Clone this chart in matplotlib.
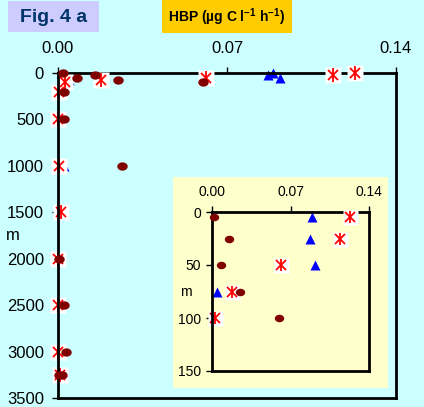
import numpy as np
import matplotlib
matplotlib.use('Agg')
import matplotlib.pyplot as plt
from matplotlib.path import Path
from matplotlib.patches import Rectangle

plt.rcParams['font.family'] = ['Liberation Sans', 'DejaVu Sans']
plt.rcParams['mathtext.fontset'] = 'custom'
plt.rcParams['mathtext.rm'] = 'Liberation Sans'
plt.rcParams['mathtext.bf'] = 'Liberation Sans:bold'

# ---- data (HBP, µg C l-1 h-1 vs depth, m) ----
circ_depth = [5, 25, 50, 75, 100, 200, 500, 1000, 2000, 2500, 3000, 3250, 3250]
circ_val = [0.002, 0.0155, 0.008, 0.025, 0.060, 0.0025, 0.0025, 0.0265,
            0.0004, 0.0026, 0.0033, 0.0004, 0.0018]

star_depth = [5, 25, 50, 75, 100, 200, 500, 1000, 1500, 2000, 2500, 3000, 3250]
star_val = [0.123, 0.114, 0.0615, 0.018, 0.003, 0.0004, 0.0, 0.0005, 0.0012,
            0.0, 0.0, 0.0, 0.0008]

tri_depth = [5, 25, 50, 75, 1000]
tri_val = [0.089, 0.087, 0.092, 0.0045, 0.0025]

x_ticks = [0.0, 0.07, 0.14]
x_ticklabels = ['0.00', '0.07', '0.14']
main_yticks = [0, 500, 1000, 1500, 2000, 2500, 3000, 3500]
inset_yticks = [0, 50, 100, 150]

BG = '#ccffff'
YEL = '#ffffcc'

t = np.linspace(0, 2 * np.pi, 41)
ell = Path(np.c_[1.25 * np.cos(t), np.sin(t)], closed=True)

W, H = 424, 407
fig = plt.figure(figsize=(W / 100, H / 100), dpi=100)
fig.patch.set_facecolor(BG)


def px(l, t_, r, b):
    return [l / W, (H - b) / H, (r - l) / W, (b - t_) / H]


def sel(d, v, lim):
    pairs = [(a, b) for a, b in zip(d, v) if a <= lim]
    return [p[1] for p in pairs], [p[0] for p in pairs]


def draw(ax, lim, s):
    x, y = sel(tri_depth, tri_val, lim)
    ax.plot(x, y, ls='none', marker='^', color='#0000ff', ms=7.5 * s,
            mec='none', zorder=1.6, clip_on=False)
    x, y = sel(star_depth, star_val, lim)
    ax.plot(x, y, ls='none', marker='s', mfc='white', mec='none',
            ms=12 * s, zorder=1.7, clip_on=False)
    ax.plot(x, y, ls='none', marker='x', color='#ff0000', ms=7.5 * s,
            mew=1.3, zorder=1.8, clip_on=False)
    ax.plot(x, y, ls='none', marker='|', color='#ff0000', ms=9.5 * s,
            mew=1.3, zorder=1.8, clip_on=False)
    x, y = sel(circ_depth, circ_val, lim)
    ax.plot(x, y, ls='none', marker=ell, color='#800000', ms=7.5 * s,
            mec='none', zorder=3, clip_on=False)


def style(ax, yticks, ymax, fs, xpad, ypad, mpos):
    ax.set_xlim(0, 0.14)
    ax.set_ylim(ymax, 0)
    ax.set_xticks(x_ticks)
    ax.set_xticklabels(x_ticklabels)
    ax.set_yticks(yticks)
    ax.xaxis.tick_top()
    ax.tick_params(axis='x', direction='out', length=4, width=1,
                   pad=xpad, labelsize=fs)
    ax.tick_params(axis='y', direction='out', length=4, width=1,
                   pad=ypad, labelsize=fs)
    for sp in ax.spines.values():
        sp.set_linewidth(2)
        sp.set_color('black')
    ax.spines['top'].set_zorder(1.65)
    ax.spines['left'].set_zorder(2.5)
    ax.set_ylabel('m', rotation=0, fontsize=fs, va='center', ha='center')
    ax.yaxis.set_label_coords(mpos, 0.5)


ax = fig.add_axes(px(58, 73, 396, 398), facecolor=BG, zorder=0)
draw(ax, 4000, 1.0)
style(ax, main_yticks, 3500, 12, 8.5, 6, -0.133)

fig.add_artist(Rectangle((173 / W, (H - 388) / H), 215 / W, 211 / H,
                         transform=fig.transFigure, facecolor=YEL,
                         edgecolor='none', zorder=0.5))

axi = fig.add_axes(px(212, 212, 369, 371), facecolor=YEL, zorder=1)
draw(axi, 150, 0.9)
style(axi, inset_yticks, 150, 10, 5.5, 4, -0.166)

fig.add_artist(Rectangle((8 / W, (H - 32) / H), 91 / W, 31 / H,
                         transform=fig.transFigure, facecolor='#ccccff',
                         edgecolor='none', zorder=2))
fig.text(53.5 / W, 1 - 17 / H, 'Fig. 4 a', color='#003366', fontsize=14,
         fontweight='bold', ha='center', va='center', zorder=3)

fig.add_artist(Rectangle((162 / W, (H - 33) / H), 130 / W, 33 / H,
                         transform=fig.transFigure, facecolor='#ffcc00',
                         edgecolor='none', zorder=2))
fig.text(227 / W, 1 - 17 / H,
         r'HBP (µg C l$^{\mathbf{-1}}$ h$^{\mathbf{-1}}$)', color='black',
         fontsize=10, fontweight='bold', ha='center', va='center', zorder=3)

fig.savefig('out.png', dpi=100, facecolor=BG)
